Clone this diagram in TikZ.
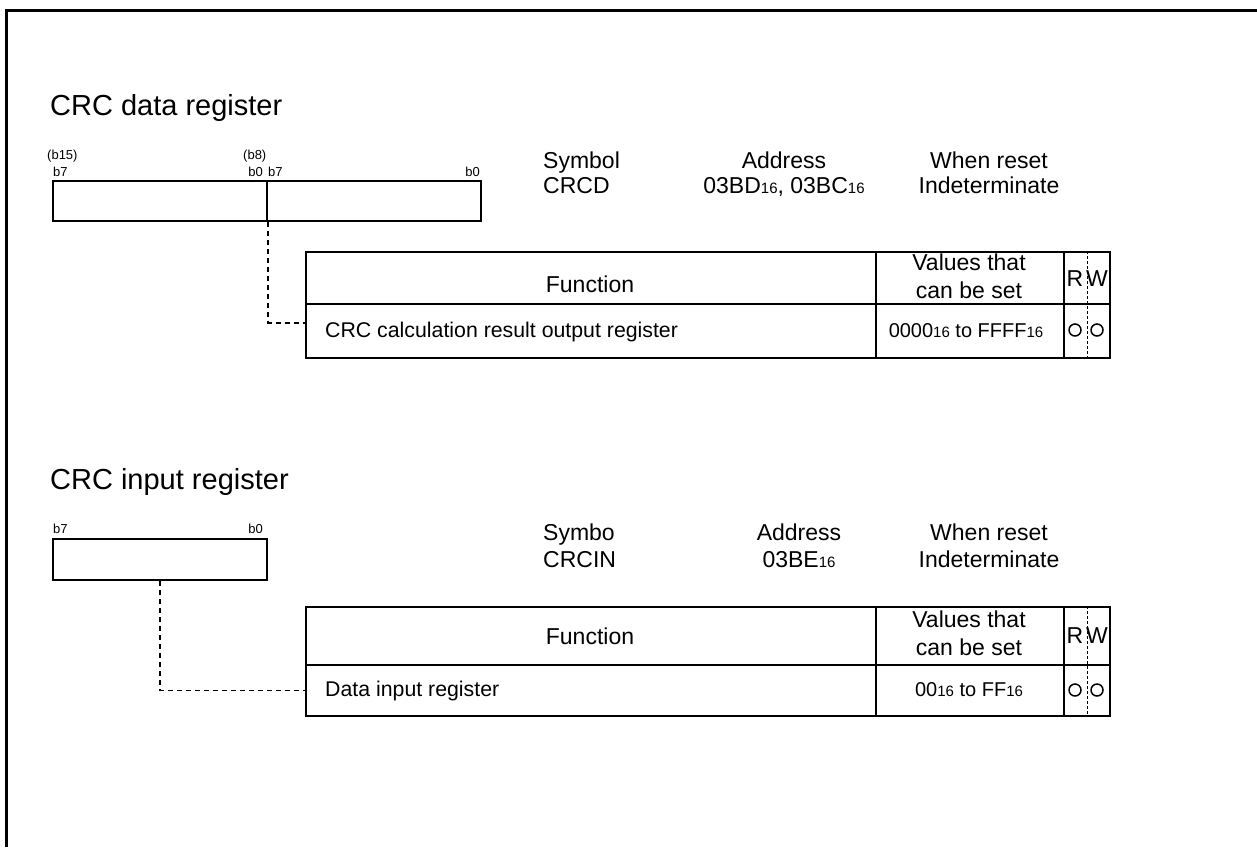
\documentclass[tikz,border=0pt]{standalone}
\usepackage{fontspec}
\setmainfont{Liberation Sans}
\usetikzlibrary{positioning,calc}
\newcommand{\hexsub}{{\fontsize{15}{15}\selectfont 16}}
\tikzset{
  regbox/.style={
    draw,
    line width=2.2pt,
    inner sep=0pt,
    anchor=north west
  },
  cell/.style={
    draw,
    line width=1.8pt,
    inner sep=0pt,
    anchor=north west
  },
  bitlbl/.style={
    inner sep=0pt,
    font=\fontsize{13}{14}\selectfont
  },
  title/.style={
    inner sep=0pt,
    anchor=base west,
    font=\fontsize{29}{31}\selectfont
  },
  txt/.style={
    inner sep=0pt,
    align=center,
    font=\fontsize{23}{28}\selectfont
  },
  rowtxt/.style={
    inner sep=0pt,
    anchor=base west,
    font=\fontsize{21.3}{24}\selectfont
  },
  valtxt/.style={
    inner sep=0pt,
    anchor=base,
    font=\fontsize{20}{24}\selectfont
  },
  link/.style={
    line width=1.5pt,
    dash pattern=on 5pt off 4pt
  },
  mark circ/.style={
    draw,
    circle,
    line width=1.5pt,
    inner sep=0pt,
    minimum size=12pt
  }
}

\begin{document}
\begin{tikzpicture}[x=1pt,y=-1pt]
  \useasboundingbox (0,0) rectangle (1257,847);
  \draw[line width=3pt] (6,847) -- (6,10) -- (1257,10);

  % CRC data register
  \node[title] (crcdtitle) at (50,115) {CRC data register};
  \node[regbox, minimum width=214pt, minimum height=40pt] (crcdhi) at (52,180) {};
  \node[regbox, minimum width=214pt, minimum height=40pt] (crcdlo) at (266,180) {};
  \node[bitlbl, anchor=base west] (crcdb15) at (47,159) {(b15)};
  \node[bitlbl, anchor=base west] (crcdb7h) at (53,176) {b7};
  \node[bitlbl, anchor=base west] (crcdb8) at (243,159) {(b8)};
  \node[bitlbl, anchor=base east] (crcdb0h) at (263,176) {b0};
  \node[bitlbl, anchor=base west] (crcdb7l) at (268,176) {b7};
  \node[bitlbl, anchor=base east] (crcdb0l) at (480,176) {b0};

  \node[txt, anchor=base west] (crcdsym) at (543,168) {Symbol};
  \node[txt, anchor=base west] (crcdsymv) at (543,193) {CRCD};
  \node[txt, anchor=base] (crcdadr) at (784,168) {Address};
  \node[txt, anchor=base] (crcdadrv) at (784,193) {03BD\hexsub, 03BC\hexsub};
  \node[txt, anchor=base] (crcdrst) at (989,168) {When reset};
  \node[txt, anchor=base] (crcdrstv) at (989,193) {Indeterminate};

  \node[cell, minimum width=570pt, minimum height=52pt] (crcdfnh) at (305,251) {};
  \node[cell, minimum width=570pt, minimum height=54pt] (crcdfn) at (305,303) {};
  \node[cell, minimum width=188pt, minimum height=52pt] (crcdvalh) at (875,251) {};
  \node[cell, minimum width=188pt, minimum height=54pt] (crcdval) at (875,303) {};
  \node[cell, minimum width=46pt, minimum height=52pt] (crcdrwh) at (1063,251) {};
  \node[cell, minimum width=46pt, minimum height=54pt] (crcdrw) at (1063,303) {};
  \draw[line width=0.8pt, dash pattern=on 3pt off 2pt] (crcdrwh.north) -- (crcdrw.south);

  \node[txt] (crcdfnt) at (590,284) {Function};
  \node[txt] (crcdvalt) at (969,276) {Values that\\can be set};
  \node[txt, anchor=base] (crcdr) at (1075,286) {R};
  \node[txt, anchor=base] (crcdw) at (1097,286) {W};
  \node[rowtxt] (crcdfnr) at (325,337) {CRC calculation result output register};
  \node[valtxt] (crcdvalr) at (966,337) {0000\hexsub{} to FFFF\hexsub};
  \node[mark circ] (crcdrc) at (1075,330) {};
  \node[mark circ] (crcdwc) at (1097,330) {};

  \draw[link] (crcdhi.south east) |- ([yshift=8pt]crcdfn.west);

  % CRC input register
  \node[title] (crcintitle) at (50,489) {CRC input register};
  \node[regbox, minimum width=214pt, minimum height=41pt] (crcinreg) at (52,538) {};
  \node[bitlbl, anchor=base west] (crcinb7) at (53,533) {b7};
  \node[bitlbl, anchor=base east] (crcinb0) at (263,533) {b0};

  \node[txt, anchor=base west] (crcinsym) at (543,540) {Symbo};
  \node[txt, anchor=base west] (crcinsymv) at (543,567) {CRCIN};
  \node[txt, anchor=base] (crcinadr) at (799,540) {Address};
  \node[txt, anchor=base] (crcinadrv) at (799,567) {03BE\hexsub};
  \node[txt, anchor=base] (crcinrst) at (989,540) {When reset};
  \node[txt, anchor=base] (crcinrstv) at (989,567) {Indeterminate};

  \node[cell, minimum width=570pt, minimum height=58pt] (crcinfnh) at (305,606) {};
  \node[cell, minimum width=570pt, minimum height=51pt] (crcinfn) at (305,664) {};
  \node[cell, minimum width=188pt, minimum height=58pt] (crcinvalh) at (875,606) {};
  \node[cell, minimum width=188pt, minimum height=51pt] (crcinval) at (875,664) {};
  \node[cell, minimum width=46pt, minimum height=58pt] (crcinrwh) at (1063,606) {};
  \node[cell, minimum width=46pt, minimum height=51pt] (crcinrw) at (1063,664) {};
  \draw[line width=0.8pt, dash pattern=on 3pt off 2pt] (crcinrwh.north) -- (crcinrw.south);

  \node[txt] (crcinfnt) at (590,636) {Function};
  \node[txt] (crcinvalt) at (969,633) {Values that\\can be set};
  \node[txt, anchor=base] (crcinr) at (1075,643) {R};
  \node[txt, anchor=base] (crcinw) at (1097,643) {W};
  \node[rowtxt] (crcinfnr) at (325,696) {Data input register};
  \node[valtxt] (crcinvalr) at (969,696) {00\hexsub{} to FF\hexsub};
  \node[mark circ] (crcinrc) at (1075,690) {};
  \node[mark circ] (crcinwc) at (1097,690) {};

  \draw[link] (crcinreg.south) |- (crcinfn.west);
\end{tikzpicture}
\end{document}
